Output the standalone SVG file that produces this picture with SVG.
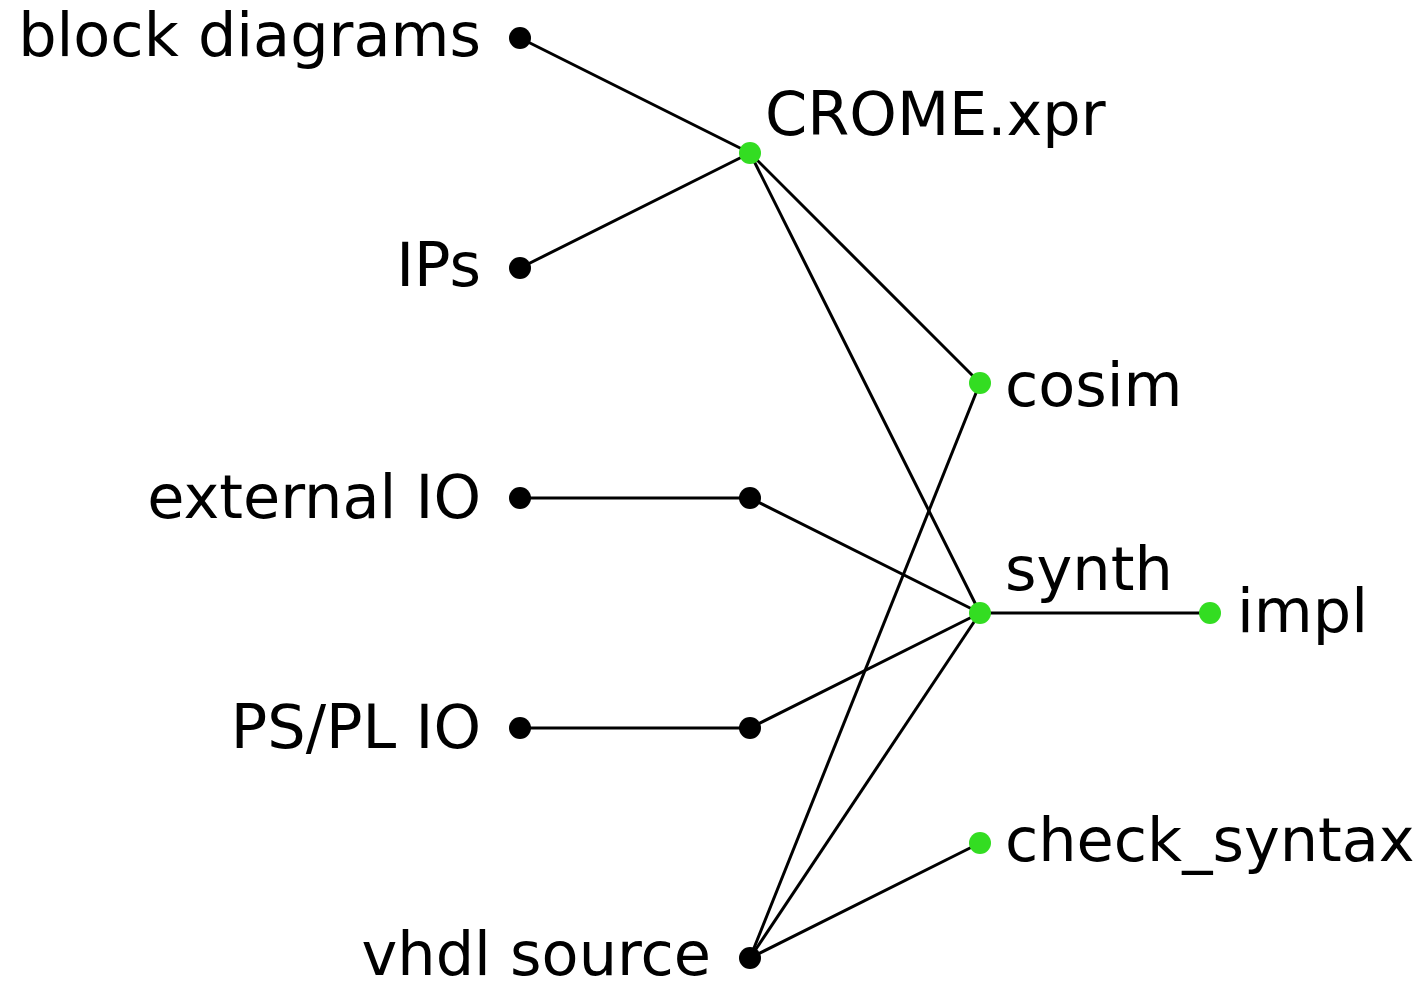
<svg xmlns="http://www.w3.org/2000/svg" width="1425" height="982" viewBox="0 0 1425 982">
<style>
text{font-family:"DejaVu Sans",sans-serif;font-size:60.5px;fill:#000}
.l{text-anchor:end}
.e{stroke:#000;stroke-width:3;fill:none}
.b{fill:#000}
.g{fill:#33dd22}
</style>
<rect width="1425" height="982" fill="#fff"/>
<g id="edges">
<line class="e" x1="520" y1="38" x2="750" y2="153"/>
<line class="e" x1="520" y1="268" x2="750" y2="153"/>
<line class="e" x1="750" y1="153" x2="980" y2="383"/>
<line class="e" x1="750" y1="153" x2="980" y2="613"/>
<line class="e" x1="520" y1="498" x2="750" y2="498"/>
<line class="e" x1="750" y1="498" x2="980" y2="613"/>
<line class="e" x1="520" y1="728" x2="750" y2="728"/>
<line class="e" x1="750" y1="728" x2="980" y2="613"/>
<line class="e" x1="750" y1="958" x2="980" y2="383"/>
<line class="e" x1="750" y1="958" x2="980" y2="613"/>
<line class="e" x1="750" y1="958" x2="980" y2="843"/>
<line class="e" x1="980" y1="613" x2="1210" y2="613"/>
</g>
<g id="block_diagrams"><circle class="b" cx="520" cy="38" r="11"/><text class="l" x="481" y="56">block diagrams</text></g>
<g id="IPs"><circle class="b" cx="520" cy="268" r="11"/><text class="l" x="481" y="286">IPs</text></g>
<g id="external_IO"><circle class="b" cx="520" cy="498" r="11"/><text class="l" x="481" y="518">external IO</text></g>
<g id="PS_PL_IO"><circle class="b" cx="520" cy="728" r="11"/><text class="l" x="481" y="748">PS/PL IO</text></g>
<g id="mid_external"><circle class="b" cx="750" cy="498" r="11"/></g>
<g id="mid_pspl"><circle class="b" cx="750" cy="728" r="11"/></g>
<g id="vhdl_source"><circle class="b" cx="750" cy="958" r="11"/><text class="l" x="711" y="975">vhdl source</text></g>
<g id="CROME_xpr"><circle class="g" cx="750" cy="153" r="11"/><text x="765" y="135">CROME.xpr</text></g>
<g id="cosim"><circle class="g" cx="980" cy="383" r="11"/><text x="1005" y="406">cosim</text></g>
<g id="synth"><circle class="g" cx="980" cy="613" r="11"/><text x="1005" y="590">synth</text></g>
<g id="check_syntax"><circle class="g" cx="980" cy="843" r="11"/><text x="1005" y="861">check_syntax</text></g>
<g id="impl"><circle class="g" cx="1210" cy="613" r="11"/><text x="1237" y="632">impl</text></g>
</svg>
